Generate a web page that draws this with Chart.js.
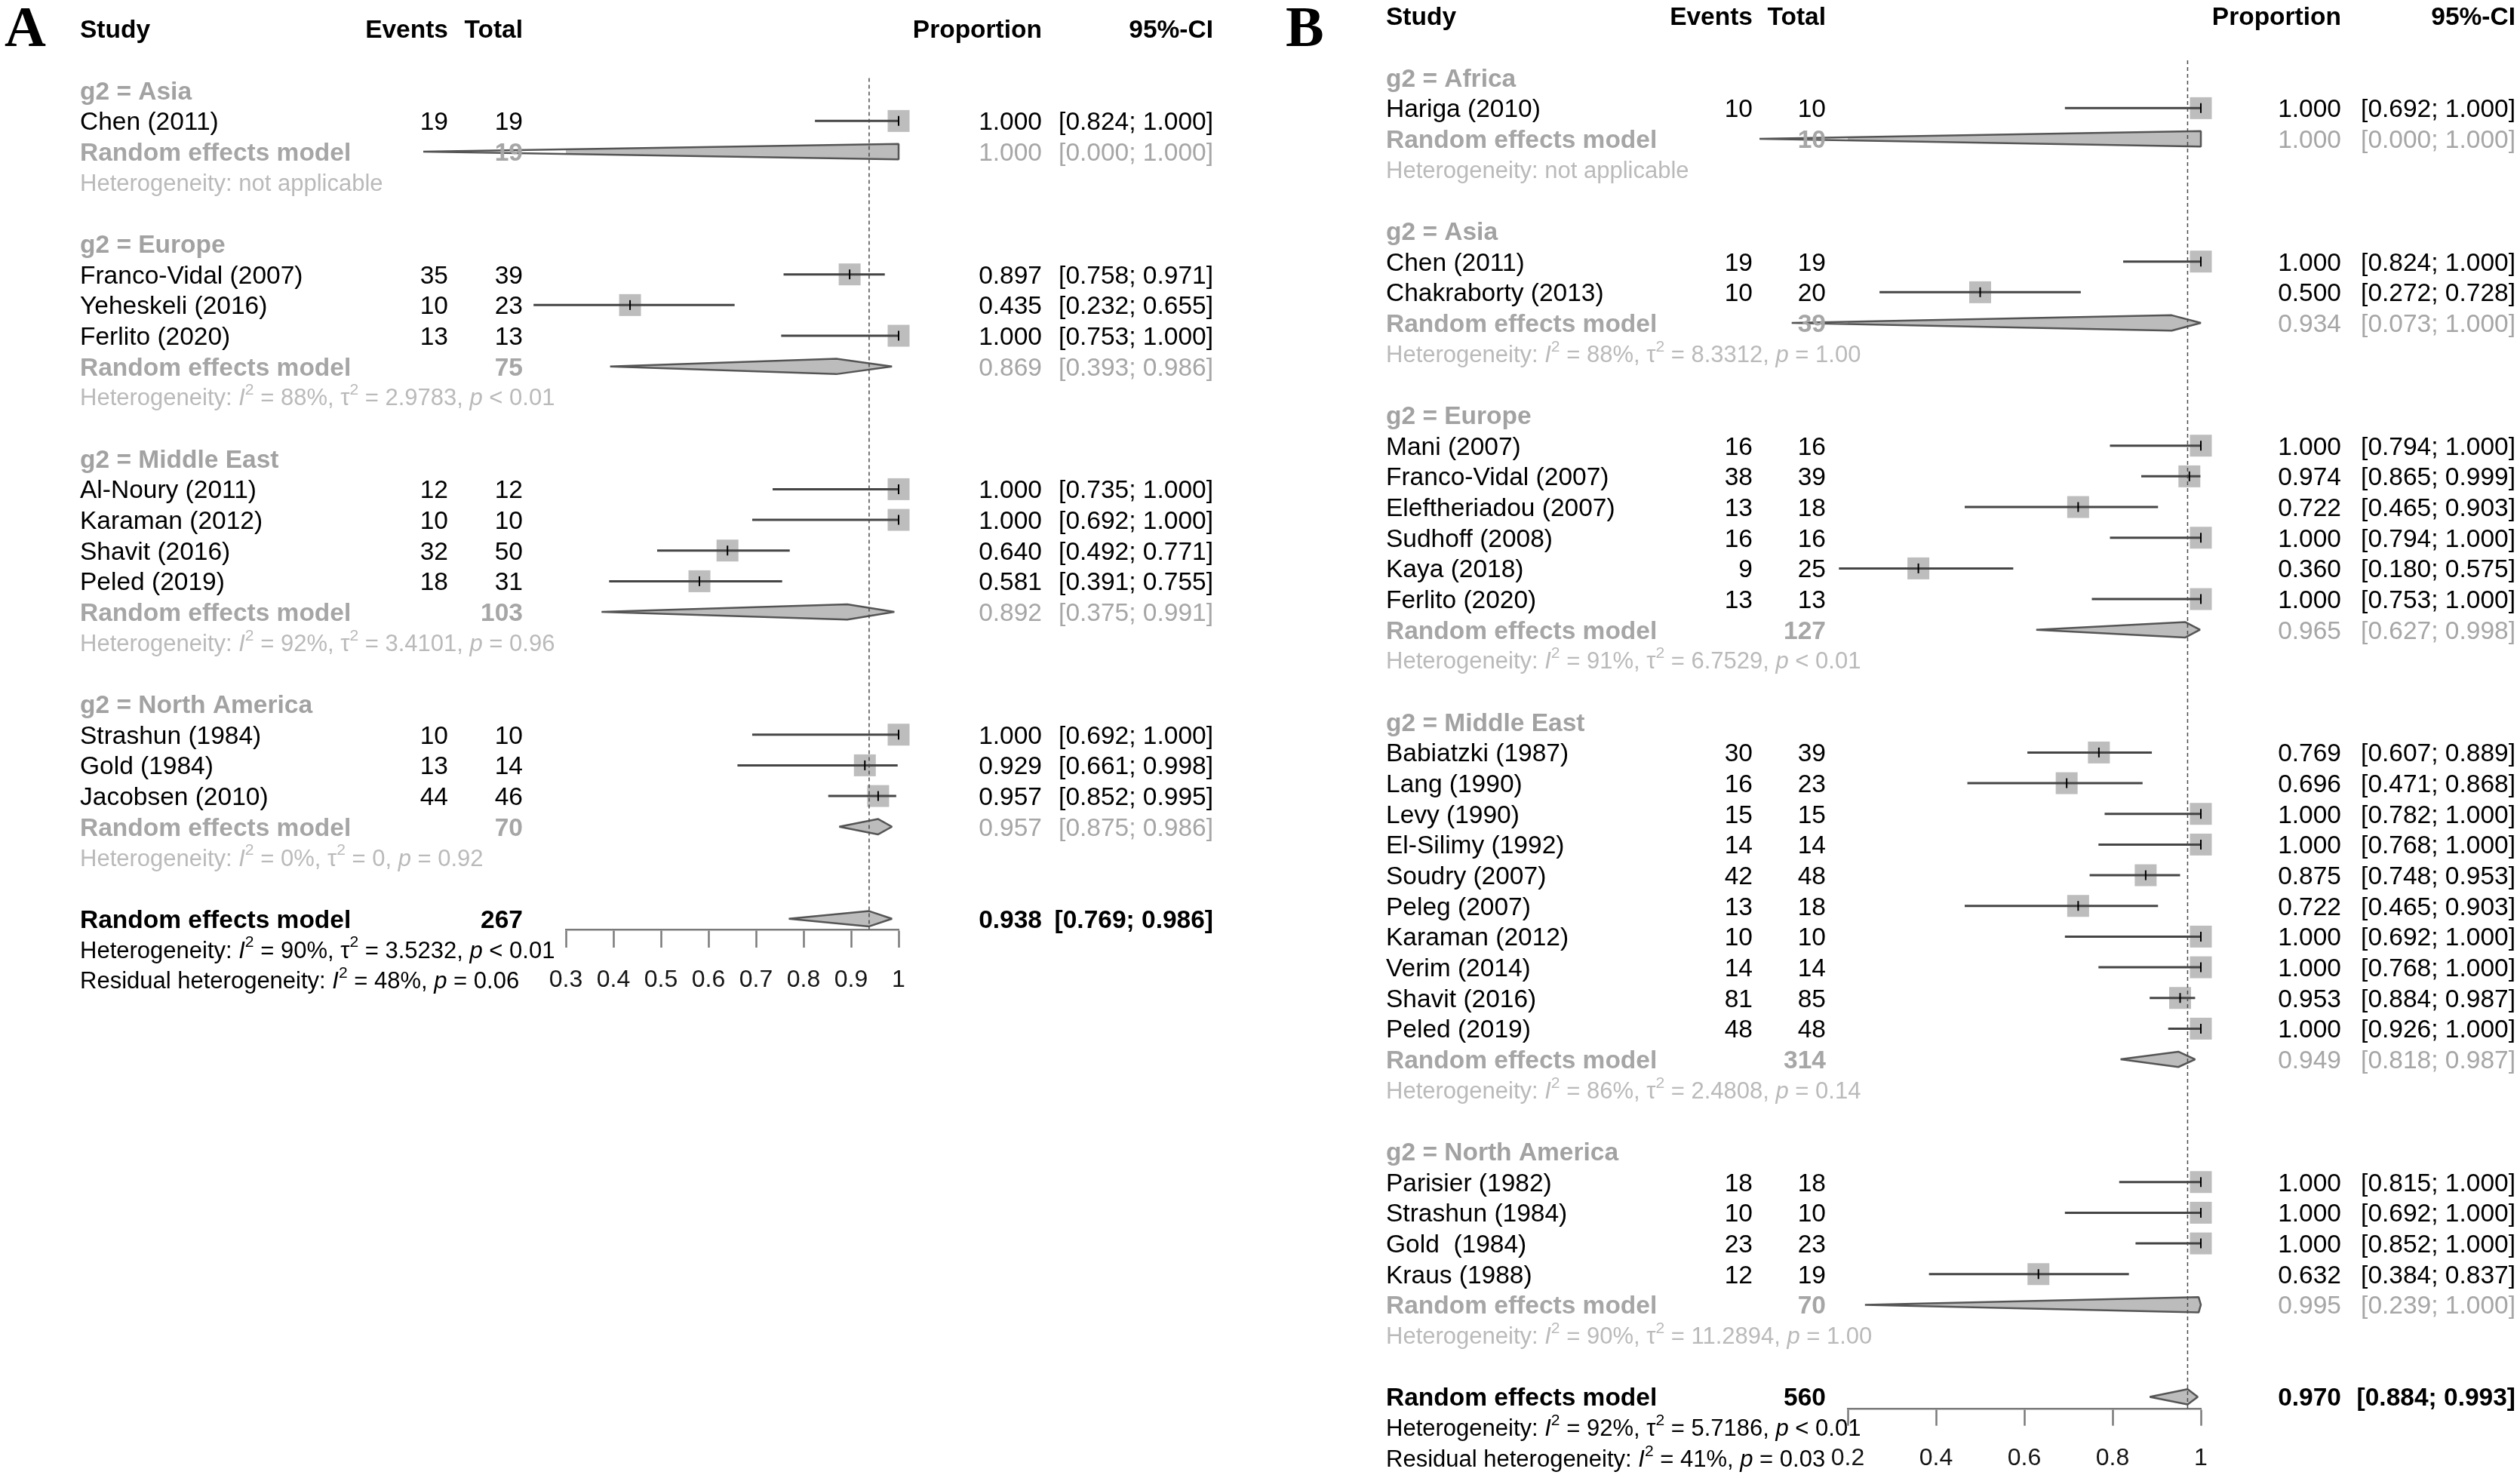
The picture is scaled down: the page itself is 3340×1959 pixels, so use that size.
<!DOCTYPE html>
<html><head><meta charset="utf-8">
<script src="https://cdn.jsdelivr.net/npm/chart.js@4.4.1/dist/chart.umd.min.js"></script>
<style>
html,body{margin:0;padding:0;background:#fff;}
#wrap{position:relative;width:3340px;height:1959px;overflow:hidden;background:#fff;}
canvas{position:absolute;top:0;}
#cA{left:0;} #cB{left:1690px;}
</style></head><body>
<div id="wrap"><canvas id="cA" width="1690" height="1959"></canvas><canvas id="cB" width="1650" height="1959"></canvas></div>
<script>
// ================= Panel A data =================
const groupsA = ['Asia', 'Europe', 'Middle East', 'North America'];
const studiesA = ['Chen (2011)', 'Franco-Vidal (2007)', 'Yeheskeli (2016)', 'Ferlito (2020)',
  'Al-Noury (2011)', 'Karaman (2012)', 'Shavit (2016)', 'Peled (2019)',
  'Strashun (1984)', 'Gold (1984)', 'Jacobsen (2010)'];
const studyGroupA = [0, 1, 1, 1, 2, 2, 2, 2, 3, 3, 3];
const eventsA = [19, 35, 10, 13, 12, 10, 32, 18, 10, 13, 44];
const totalA = [19, 39, 23, 13, 12, 10, 50, 31, 10, 14, 46];
const propA = [1.000, 0.897, 0.435, 1.000, 1.000, 1.000, 0.640, 0.581, 1.000, 0.929, 0.957];
const lowerA = [0.824, 0.758, 0.232, 0.753, 0.735, 0.692, 0.492, 0.391, 0.692, 0.661, 0.852];
const upperA = [1.000, 0.971, 0.655, 1.000, 1.000, 1.000, 0.771, 0.755, 1.000, 0.998, 0.995];
const remTotalA = [19, 75, 103, 70];
const remPropA = [1.000, 0.869, 0.892, 0.957];
const remLowerA = [0.000, 0.393, 0.375, 0.875];
const remUpperA = [1.000, 0.986, 0.991, 0.986];
const hetI2A = [null, '88%', '92%', '0%'];
const hetTau2A = [null, '2.9783', '3.4101', '0'];
const hetPA = [null, '< 0.01', '= 0.96', '= 0.92'];
const overallA = [267, 0.938, 0.769, 0.986];           // total, proportion, lower, upper
const overallHetA = ['90%', '3.5232', '< 0.01'];        // I2, tau2, p
const residualHetA = ['48%', '= 0.06'];                 // I2, p
const tickValuesA = [0.3, 0.4, 0.5, 0.6, 0.7, 0.8, 0.9, 1];
const tickLabelsA = ['0.3', '0.4', '0.5', '0.6', '0.7', '0.8', '0.9', '1'];

// ================= Panel B data =================
const groupsB = ['Africa', 'Asia', 'Europe', 'Middle East', 'North America'];
const studiesB = ['Hariga (2010)', 'Chen (2011)', 'Chakraborty (2013)',
  'Mani (2007)', 'Franco-Vidal (2007)', 'Eleftheriadou (2007)', 'Sudhoff (2008)', 'Kaya (2018)', 'Ferlito (2020)',
  'Babiatzki (1987)', 'Lang (1990)', 'Levy (1990)', 'El-Silimy (1992)', 'Soudry (2007)', 'Peleg (2007)',
  'Karaman (2012)', 'Verim (2014)', 'Shavit (2016)', 'Peled (2019)',
  'Parisier (1982)', 'Strashun (1984)', 'Gold  (1984)', 'Kraus (1988)'];
const studyGroupB = [0, 1, 1, 2, 2, 2, 2, 2, 2, 3, 3, 3, 3, 3, 3, 3, 3, 3, 3, 4, 4, 4, 4];
const eventsB = [10, 19, 10, 16, 38, 13, 16, 9, 13, 30, 16, 15, 14, 42, 13, 10, 14, 81, 48, 18, 10, 23, 12];
const totalB = [10, 19, 20, 16, 39, 18, 16, 25, 13, 39, 23, 15, 14, 48, 18, 10, 14, 85, 48, 18, 10, 23, 19];
const propB = [1.000, 1.000, 0.500, 1.000, 0.974, 0.722, 1.000, 0.360, 1.000, 0.769, 0.696, 1.000, 1.000,
  0.875, 0.722, 1.000, 1.000, 0.953, 1.000, 1.000, 1.000, 1.000, 0.632];
const lowerB = [0.692, 0.824, 0.272, 0.794, 0.865, 0.465, 0.794, 0.180, 0.753, 0.607, 0.471, 0.782, 0.768,
  0.748, 0.465, 0.692, 0.768, 0.884, 0.926, 0.815, 0.692, 0.852, 0.384];
const upperB = [1.000, 1.000, 0.728, 1.000, 0.999, 0.903, 1.000, 0.575, 1.000, 0.889, 0.868, 1.000, 1.000,
  0.953, 0.903, 1.000, 1.000, 0.987, 1.000, 1.000, 1.000, 1.000, 0.837];
const remTotalB = [10, 39, 127, 314, 70];
const remPropB = [1.000, 0.934, 0.965, 0.949, 0.995];
const remLowerB = [0.000, 0.073, 0.627, 0.818, 0.239];
const remUpperB = [1.000, 1.000, 0.998, 0.987, 1.000];
const hetI2B = [null, '88%', '91%', '86%', '90%'];
const hetTau2B = [null, '8.3312', '6.7529', '2.4808', '11.2894'];
const hetPB = [null, '= 1.00', '< 0.01', '= 0.14', '= 1.00'];
const overallB = [560, 0.970, 0.884, 0.993];
const overallHetB = ['92%', '5.7186', '< 0.01'];
const residualHetB = ['41%', '= 0.03'];
const tickValuesB = [0.2, 0.4, 0.6, 0.8, 1];
const tickLabelsB = ['0.2', '0.4', '0.6', '0.8', '1'];

// ================= Layout / style =================
const FONT = '"Liberation Sans", Arial, Helvetica, sans-serif';
const SERIF = '"Liberation Serif", "Times New Roman", serif';
const FS = 33.5, FS_HET = 31;
const C_GROUP = '#a2a2a2', C_REM = '#a6a6a6', C_HET = '#bababa';

const layoutA = {
  canvas: 'cA', letter: 'A', letterX: 6, width: 1690,
  studyX: 106, eventsX: 594, totalX: 693, propX: 1381, ciX: 1608,
  xMin: 0.3, xMax: 1, yMin: 1.6, yMax: 29.35,
  pad: { left: 750, right: 499, top: 103.4, bottom: 647 },
  tickLen: 24, tickPad: 24
};
const layoutB = {
  canvas: 'cB', letter: 'B', letterX: 14, width: 1650,
  studyX: 147, eventsX: 633, totalX: 730, propX: 1413, ciX: 1644,
  xMin: 0.2, xMax: 1, yMin: 1.44, yMax: 45.4,
  pad: { left: 759, right: 423, top: 79.9, bottom: 11.3 },
  tickLen: 22, tickPad: 24
};
const SQ_RADIUS = 20.5;   // rect point radius (side ≈ 29px)
const DIAMOND_H = 0.25;   // diamond half height in row units
const AXIS_H = 80;

const dataA = { groups: groupsA, studies: studiesA, studyGroup: studyGroupA, events: eventsA, total: totalA,
  prop: propA, lower: lowerA, upper: upperA, remTotal: remTotalA, remProp: remPropA, remLower: remLowerA,
  remUpper: remUpperA, hetI2: hetI2A, hetTau2: hetTau2A, hetP: hetPA, overall: overallA,
  overallHet: overallHetA, residual: residualHetA, ticks: tickValuesA, tickLabels: tickLabelsA };
const dataB = { groups: groupsB, studies: studiesB, studyGroup: studyGroupB, events: eventsB, total: totalB,
  prop: propB, lower: lowerB, upper: upperB, remTotal: remTotalB, remProp: remPropB, remLower: remLowerB,
  remUpper: remUpperB, hetI2: hetI2B, hetTau2: hetTau2B, hetP: hetPB, overall: overallB,
  overallHet: overallHetB, residual: residualHetB, ticks: tickValuesB, tickLabels: tickLabelsB };

function f3(v) { return v.toFixed(3); }
function ciText(lo, hi) { return '[' + f3(lo) + '; ' + f3(hi) + ']'; }

function hetSegs(i2, tau2, p) {
  if (i2 == null) return [{ t: 'Heterogeneity: not applicable' }];
  return [{ t: 'Heterogeneity: ' }, { t: 'I', it: 1 }, { t: '2', sup: 1 }, { t: ' = ' + i2 + ', ' },
    { t: 'τ' }, { t: '2', sup: 1 }, { t: ' = ' + tau2 + ', ' }, { t: 'p', it: 1 }, { t: ' ' + p }];
}
function residSegs(i2, p) {
  return [{ t: 'Residual heterogeneity: ' }, { t: 'I', it: 1 }, { t: '2', sup: 1 }, { t: ' = ' + i2 + ', ' },
    { t: 'p', it: 1 }, { t: ' ' + p }];
}

function put(ctx, text, x, yc, size, opt) {
  opt = opt || {};
  ctx.font = (opt.italic ? 'italic ' : '') + (opt.bold ? 'bold ' : '') + size + 'px ' + (opt.family || FONT);
  ctx.fillStyle = opt.color || '#000';
  ctx.textAlign = opt.align || 'left';
  ctx.textBaseline = 'alphabetic';
  ctx.fillText(text, x, yc + 0.358 * size);
}
function rich(ctx, segs, x, yc, size, color) {
  const base = yc + 0.358 * size;
  ctx.fillStyle = color; ctx.textAlign = 'left'; ctx.textBaseline = 'alphabetic';
  let cx = x;
  segs.forEach(s => {
    const sz = s.sup ? size * 0.68 : size;
    ctx.font = (s.it ? 'italic ' : '') + sz + 'px ' + FONT;
    ctx.fillText(s.t, cx, base - (s.sup ? size * 0.46 : 0));
    cx += ctx.measureText(s.t).width;
  });
}

function buildPanel(D, L) {
  // row layout (0 = header, 1 = blank)
  const studyRow = [], groupRow = [], remRow = [], hetRow = [];
  let r = 2;
  D.groups.forEach((g, gi) => {
    groupRow.push(r++);
    D.studies.forEach((s, si) => { if (D.studyGroup[si] === gi) studyRow[si] = r++; });
    remRow.push(r++); hetRow.push(r++); r++;
  });
  const overallRow = r, overallHetRow = r + 1, residualRow = r + 2;

  const datasets = [];
  // weight squares
  datasets.push({
    type: 'scatter', label: 'squares',
    data: D.studies.map((s, i) => ({ x: D.prop[i], y: studyRow[i] })),
    pointStyle: 'rect', pointRadius: SQ_RADIUS, pointHoverRadius: SQ_RADIUS,
    backgroundColor: '#bdbdbd', borderWidth: 0, order: 10, clip: false
  });
  // confidence intervals
  D.studies.forEach((s, i) => datasets.push({
    type: 'line', label: s,
    data: [{ x: D.lower[i], y: studyRow[i] }, { x: D.upper[i], y: studyRow[i] }],
    borderColor: '#454545', borderWidth: 3, pointRadius: 0, fill: false, order: 6, clip: false
  }));
  // diamonds
  const diamond = (lo, est, hi, row, label) => ({
    type: 'line', label: label,
    data: [{ x: lo, y: row }, { x: est, y: row - DIAMOND_H }, { x: hi, y: row }, { x: est, y: row + DIAMOND_H }, { x: lo, y: row }],
    fill: 'shape', backgroundColor: '#bcbcbc', borderColor: '#555555', borderWidth: 2.5,
    borderJoinStyle: 'bevel', pointRadius: 0, tension: 0, order: 8, clip: false
  });
  D.groups.forEach((g, gi) => datasets.push(diamond(D.remLower[gi], D.remProp[gi], D.remUpper[gi], remRow[gi], 'REM ' + g)));
  datasets.push(diamond(D.overall[2], D.overall[1], D.overall[3], overallRow, 'REM overall'));
  // point estimate ticks
  datasets.push({
    type: 'scatter', label: 'estimates',
    data: D.studies.map((s, i) => ({ x: D.prop[i], y: studyRow[i] })),
    pointStyle: 'line', rotation: 90, pointRadius: 6.5, pointHoverRadius: 6.5,
    borderColor: '#000', borderWidth: 2, order: 4, clip: false
  });
  // reference line at overall estimate
  datasets.push({
    type: 'line', label: 'reference',
    data: [{ x: D.overall[1], y: L.yMin }, { x: D.overall[1], y: L.yMax }],
    borderColor: '#4a4a4a', borderWidth: 1.5, borderDash: [5, 4], pointRadius: 0, fill: false, order: 2, clip: false
  });

  const textPlugin = {
    id: 'forestText',
    afterDraw(chart) {
      const ctx = chart.ctx;
      const Y = v => chart.scales.y.getPixelForValue(v);
      ctx.save();
      // panel letter
      ctx.font = 'bold 76px ' + SERIF; ctx.fillStyle = '#000'; ctx.textAlign = 'left'; ctx.textBaseline = 'alphabetic';
      ctx.fillText(L.letter, L.letterX, 61);
      // header
      const yh = Y(0);
      put(ctx, 'Study', L.studyX, yh, FS, { bold: 1 });
      put(ctx, 'Events', L.eventsX, yh, FS, { bold: 1, align: 'right' });
      put(ctx, 'Total', L.totalX, yh, FS, { bold: 1, align: 'right' });
      put(ctx, 'Proportion', L.propX, yh, FS, { bold: 1, align: 'right' });
      put(ctx, '95%-CI', L.ciX, yh, FS, { bold: 1, align: 'right' });
      D.groups.forEach((g, gi) => {
        put(ctx, 'g2 = ' + g, L.studyX, Y(groupRow[gi]), FS, { bold: 1, color: C_GROUP });
        const yr = Y(remRow[gi]);
        put(ctx, 'Random effects model', L.studyX, yr, FS, { bold: 1, color: C_REM });
        put(ctx, String(D.remTotal[gi]), L.totalX, yr, FS, { bold: 1, color: C_REM, align: 'right' });
        put(ctx, f3(D.remProp[gi]), L.propX, yr, FS, { color: C_REM, align: 'right' });
        put(ctx, ciText(D.remLower[gi], D.remUpper[gi]), L.ciX, yr, FS, { color: C_REM, align: 'right' });
        rich(ctx, hetSegs(D.hetI2[gi], D.hetTau2[gi], D.hetP[gi]), L.studyX, Y(hetRow[gi]), FS_HET, C_HET);
      });
      D.studies.forEach((s, i) => {
        const ys = Y(studyRow[i]);
        put(ctx, s, L.studyX, ys, FS);
        put(ctx, String(D.events[i]), L.eventsX, ys, FS, { align: 'right' });
        put(ctx, String(D.total[i]), L.totalX, ys, FS, { align: 'right' });
        put(ctx, f3(D.prop[i]), L.propX, ys, FS, { align: 'right' });
        put(ctx, ciText(D.lower[i], D.upper[i]), L.ciX, ys, FS, { align: 'right' });
      });
      const yo = Y(overallRow);
      put(ctx, 'Random effects model', L.studyX, yo, FS, { bold: 1 });
      put(ctx, String(D.overall[0]), L.totalX, yo, FS, { bold: 1, align: 'right' });
      put(ctx, f3(D.overall[1]), L.propX, yo, FS, { bold: 1, align: 'right' });
      put(ctx, ciText(D.overall[2], D.overall[3]), L.ciX, yo, FS, { bold: 1, align: 'right' });
      rich(ctx, hetSegs(D.overallHet[0], D.overallHet[1], D.overallHet[2]), L.studyX, Y(overallHetRow), FS_HET, '#000');
      rich(ctx, residSegs(D.residual[0], D.residual[1]), L.studyX, Y(residualRow), FS_HET, '#000');
      ctx.restore();
    }
  };

  return new Chart(document.getElementById(L.canvas), {
    type: 'scatter',
    data: { datasets: datasets },
    options: {
      responsive: false, animation: false, devicePixelRatio: 1,
      events: [],
      layout: { padding: L.pad },
      plugins: { legend: { display: false }, tooltip: { enabled: false } },
      scales: {
        x: {
          type: 'linear', position: 'bottom', min: L.xMin, max: L.xMax,
          afterBuildTicks: s => { s.ticks = D.ticks.map(v => ({ value: v })); },
          afterFit: s => { s.height = AXIS_H; },
          grid: { display: true, drawOnChartArea: false, drawTicks: true, tickLength: L.tickLen,
            tickWidth: 2.5, tickColor: '#7a7a7a', color: '#7a7a7a' },
          border: { display: true, color: '#7a7a7a', width: 2.5 },
          ticks: { font: { family: FONT, size: 32 }, color: '#151515', padding: L.tickPad,
            maxRotation: 0, autoSkip: false,
            callback: (v, i) => D.tickLabels[i] }
        },
        y: { type: 'linear', display: false, reverse: true, min: L.yMin, max: L.yMax }
      }
    },
    plugins: [textPlugin]
  });
}

buildPanel(dataA, layoutA);
buildPanel(dataB, layoutB);
</script>
</body></html>
